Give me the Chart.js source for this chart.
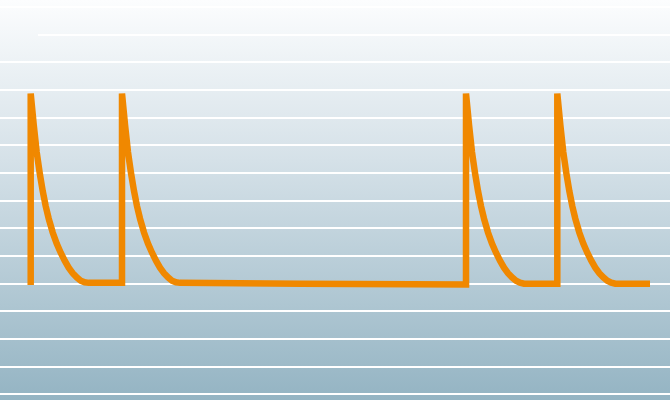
<!DOCTYPE html>
<html>
<head>
<meta charset="utf-8">
<script src="https://cdn.jsdelivr.net/npm/chart.js@4"></script>
<style>
  html, body { margin: 0; padding: 0; background: #ffffff; }
  #wrap { width: 670px; height: 400px; position: relative; }
</style>
</head>
<body>
<div id="wrap"><canvas id="c"></canvas></div>
<script>
// time values (x) and signal values (y)
const times = [
  30.7, 30.7, 33.7, 36.7, 39.7, 42.7, 45.7, 48.7, 52.7, 56.7, 60.7, 64.7, 68.7, 72.7, 76.7, 80.7, 84.7, 88.7,
  122, 122, 125, 128, 131, 134, 137, 140, 144, 148, 152, 156, 160, 164, 168, 172, 176, 180,
  300, 466, 466, 469, 472, 475, 478, 481, 484, 488, 492, 496, 500, 504, 508, 512, 516, 520, 524,
  557.3, 557.3, 560.3, 563.3, 566.3, 569.3, 572.3, 575.3, 579.3, 583.3, 587.3, 591.3, 595.3, 599.3, 603.3, 607.3, 611.3, 615.3,
  650
];
const values = [
  -0.5, 68.7, 57.5, 47.5, 40, 33.5, 28, 23.5, 18.5, 14.5, 11.2, 8.3, 5.8, 3.8, 2.3, 1.1, 0.5, 0.3,
  0.3, 68.7, 57.5, 47.5, 40, 33.5, 28, 23.5, 18.5, 14.5, 11.2, 8.3, 5.8, 3.8, 2.3, 1.1, 0.5, 0.3,
  0, -0.3, 68.7, 57.5, 47.5, 40, 33.5, 28, 23.5, 18.5, 14.5, 11.2, 8.3, 5.8, 3.8, 2.3, 1.1, 0.4, 0,
  0, 68.7, 57.5, 47.5, 40, 33.5, 28, 23.5, 18.5, 14.5, 11.2, 8.3, 5.8, 3.8, 2.3, 1.1, 0.4, 0,
  0
];
const yTicks = [-40, -30, -20, -10, 0, 10, 20, 30, 40, 50, 60, 70, 80, 90, 100];

const points = times.map((t, i) => ({ x: t, y: values[i] }));

function makeGradient(ctx, h) {
  const g = ctx.createLinearGradient(0, 0, 0, h);
  g.addColorStop(0, '#fcfdfe');
  g.addColorStop(0.4, '#d5e1e8');
  g.addColorStop(1, '#94b4c3');
  return g;
}

const bgPlugin = {
  id: 'bg',
  beforeDraw(chart) {
    const ctx = chart.ctx;
    ctx.save();
    ctx.fillStyle = makeGradient(ctx, chart.height);
    ctx.fillRect(0, 0, chart.width, chart.height);
    ctx.restore();
  },
  beforeDatasetsDraw(chart) {
    // the top grid line starts a little right of the left edge
    const ctx = chart.ctx;
    const y = chart.scales.y.getPixelForValue(90);
    ctx.save();
    ctx.fillStyle = makeGradient(ctx, chart.height);
    ctx.fillRect(0, y - 3, 38, 6);
    ctx.restore();
  }
};

new Chart(document.getElementById('c'), {
  type: 'line',
  data: {
    datasets: [{
      data: points,
      borderColor: '#f08800',
      borderWidth: 6.5,
      pointRadius: 0,
      tension: 0,
      fill: false
    }]
  },
  options: {
    responsive: true,
    maintainAspectRatio: false,
    animation: false,
    layout: { padding: 0 },
    plugins: { legend: { display: false }, tooltip: { enabled: false } },
    scales: {
      x: {
        type: 'linear',
        min: 0,
        max: 670,
        display: false
      },
      y: {
        type: 'linear',
        min: -42,
        max: 102.46,
        display: true,
        border: { display: false },
        grid: { color: '#ffffff', lineWidth: 2, drawTicks: false },
        ticks: { display: false, includeBounds: false },
        afterBuildTicks(scale) {
          scale.ticks = yTicks.map(v => ({ value: v }));
        }
      }
    }
  },
  plugins: [bgPlugin]
});
</script>
</body>
</html>
